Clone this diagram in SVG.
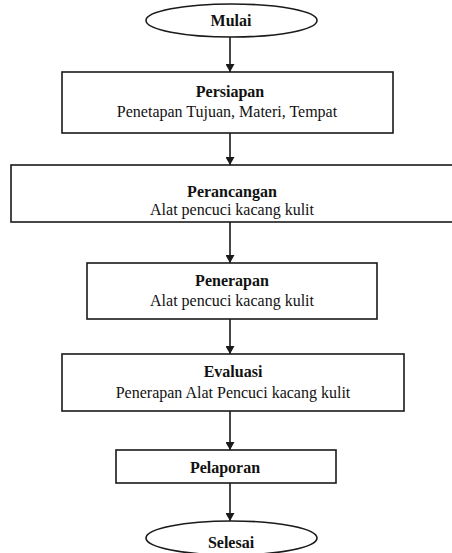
<svg xmlns="http://www.w3.org/2000/svg" width="452" height="553" viewBox="0 0 452 553">
<style>
.box{fill:#fff;stroke:#1a1a1a;stroke-width:1.6}
.c{stroke:#1a1a1a;stroke-width:1.6;fill:none}
.t{font-family:"Liberation Serif","Times New Roman",serif;font-size:16px;fill:#111;text-anchor:middle}
.b{font-weight:bold}
</style>
<defs>
<marker id="ah" markerWidth="8" markerHeight="9" refX="8" refY="4.5" orient="auto" markerUnits="userSpaceOnUse">
<path d="M0,0 L8,4.5 L0,9 Z" fill="#1a1a1a"/>
</marker>
</defs>
<rect width="452" height="553" fill="#fff"/>
<g id="connectors">
<line class="c" x1="230" y1="37" x2="230" y2="72" marker-end="url(#ah)"/>
<line class="c" x1="230" y1="133" x2="230" y2="165" marker-end="url(#ah)"/>
<line class="c" x1="230" y1="222" x2="230" y2="263" marker-end="url(#ah)"/>
<line class="c" x1="230" y1="319" x2="230" y2="354" marker-end="url(#ah)"/>
<line class="c" x1="230" y1="411" x2="230" y2="450" marker-end="url(#ah)"/>
<line class="c" x1="230" y1="483" x2="230" y2="521" marker-end="url(#ah)"/>
</g>
<g id="mulai">
<ellipse class="box" cx="231.5" cy="20.5" rx="85.5" ry="16.5"/>
<text class="t b" x="231" y="26" font-size="15">Mulai</text>
</g>
<g id="persiapan">
<rect class="box" x="62" y="72" width="331" height="61"/>
<text class="t b" x="230" y="97">Persiapan</text>
<text class="t" x="227" y="117">Penetapan Tujuan, Materi, Tempat</text>
</g>
<g id="perancangan">
<rect class="box" x="11" y="165" width="445" height="57"/>
<text class="t b" x="232" y="197">Perancangan</text>
<text class="t" x="232" y="215">Alat pencuci kacang kulit</text>
</g>
<g id="penerapan">
<rect class="box" x="87" y="263" width="290" height="56"/>
<text class="t b" x="232" y="286">Penerapan</text>
<text class="t" x="232" y="306">Alat pencuci kacang kulit</text>
</g>
<g id="evaluasi">
<rect class="box" x="62" y="354" width="342" height="57"/>
<text class="t b" x="233" y="377">Evaluasi</text>
<text class="t" x="233" y="398">Penerapan Alat Pencuci kacang kulit</text>
</g>
<g id="pelaporan">
<rect class="box" x="116" y="450" width="220" height="33"/>
<text class="t b" x="225" y="473">Pelaporan</text>
</g>
<g id="selesai">
<ellipse class="box" cx="231.5" cy="538" rx="85.5" ry="17"/>
<text class="t b" x="231" y="548">Selesai</text>
</g>
</svg>
